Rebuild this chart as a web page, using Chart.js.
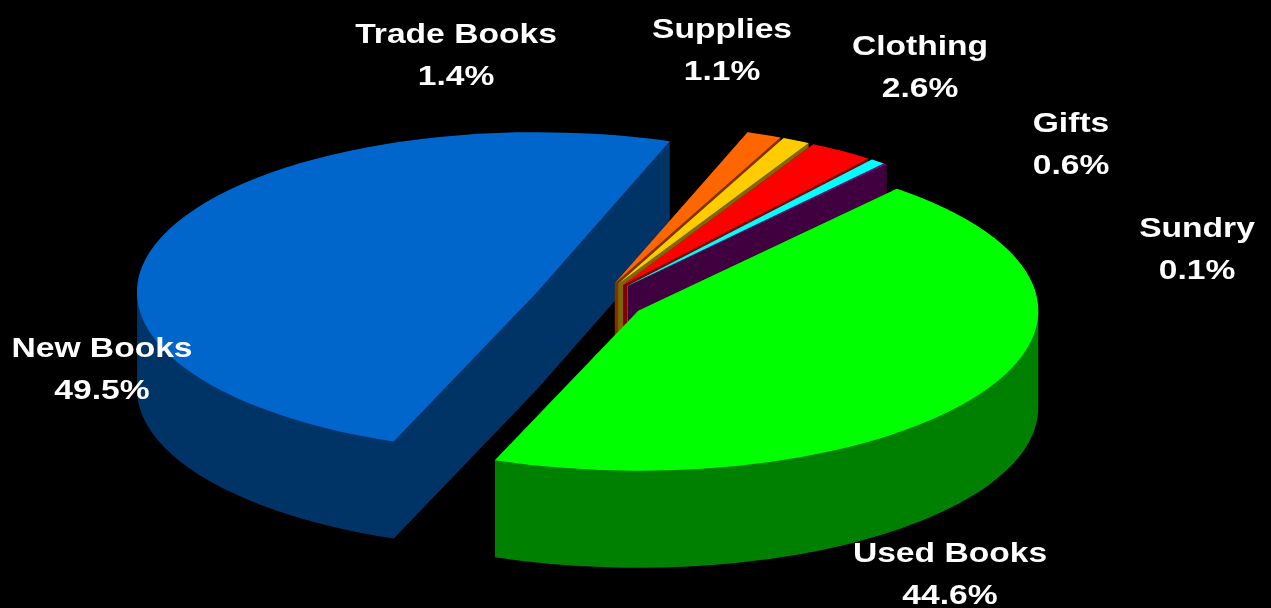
<!DOCTYPE html>
<html>
<head>
<meta charset="utf-8">
<script src="https://cdn.jsdelivr.net/npm/chart.js@4.4.0/dist/chart.umd.min.js"></script>
<style>
html, body { margin: 0; padding: 0; background: #000; }
#wrap { width: 1271px; height: 608px; }
</style>
</head>
<body>
<div id="wrap"><canvas id="sales_mix"></canvas></div>
<script>
var categories = ['New Books', 'Trade Books', 'Supplies', 'Clothing', 'Gifts', 'Sundry', 'Used Books'];
var shares = [49.5, 1.4, 1.1, 2.6, 0.6, 0.1, 44.6];

var topColors = ['#0066CC', '#FF6600', '#FFCC00', '#FF0000', '#00FFFF', '#800080', '#00FF00'];
var sideColors = ['#003366', '#803300', '#806600', '#800000', '#008080', '#400040', '#008000'];
var explode = [32, 24, 24, 24, 24, 24, 24];
var labelSpots = [[102, 357], [456, 43], [722, 38], [920, 55], [1071, 132], [1197, 237], [950, 562]];

// screen geometry of the tilted disc
var tilt = { cx: 597, cy: 301, rx: 400, ry: 160, depth: 97 };

var pie3d = {
    id: 'pie3d',
    beforeDatasetsDraw: function(chart) {
        var ctx = chart.ctx;
        var arcs = chart.getDatasetMeta(0).data;
        var r = arcs[0].outerRadius;
        var sx = tilt.rx / r, sy = tilt.ry / r;
        var c0x = arcs[0].x, c0y = arcs[0].y;
        var drop = tilt.depth / sy;

        function place(arc, i) {
            var mid = (arc.startAngle + arc.endAngle) / 2;
            ctx.save();
            ctx.translate(tilt.cx, tilt.cy);
            ctx.scale(sx, sy);
            ctx.translate(-c0x + Math.cos(mid) * explode[i], -c0y + Math.sin(mid) * explode[i]);
        }

        // back to front: each slice gets its cut faces, rim, then top
        arcs.forEach(function(arc, i) {
            place(arc, i);
            ctx.fillStyle = sideColors[i];

            [arc.startAngle, arc.endAngle].forEach(function(a) {
                var ex = arc.x + Math.cos(a) * arc.outerRadius;
                var ey = arc.y + Math.sin(a) * arc.outerRadius;
                ctx.beginPath();
                ctx.moveTo(arc.x, arc.y);
                ctx.lineTo(ex, ey);
                ctx.lineTo(ex, ey + drop);
                ctx.lineTo(arc.x, arc.y + drop);
                ctx.closePath();
                ctx.fill();
            });

            // rim: one path made of the wedge swept down, filled once
            ctx.beginPath();
            for (var d = tilt.depth; d > 0; d -= 0.5) {
                var dy = d / sy;
                ctx.moveTo(arc.x, arc.y + dy);
                ctx.arc(arc.x, arc.y + dy, arc.outerRadius, arc.startAngle, arc.endAngle);
                ctx.closePath();
            }
            ctx.fill();

            arc.draw(ctx);
            ctx.restore();
        });
        return false;
    },
    afterDraw: function(chart) {
        var ctx = chart.ctx;
        ctx.save();
        ctx.fillStyle = '#fff';
        ctx.font = 'bold 28px "Liberation Sans", Arial, sans-serif';
        ctx.textAlign = 'center';
        labelSpots.forEach(function(p, i) {
            [categories[i], shares[i].toFixed(1) + '%'].forEach(function(line, k) {
                ctx.save();
                ctx.translate(p[0], p[1] + k * 42);
                ctx.scale(1.2, 1);
                ctx.fillText(line, 0, 0);
                ctx.restore();
            });
        });
        ctx.restore();
    }
};

var ctx = document.getElementById('sales_mix').getContext('2d');
var myChart = new Chart(ctx, {
    type: 'pie',
    data: {
        labels: categories,
        datasets: [{
            data: shares,
            backgroundColor: topColors,
            borderWidth: 0
        }]
    },
    options: {
        responsive: true,
        maintainAspectRatio: false,
        animation: false,
        events: [],
        rotation: 201,
        radius: 200,
        layout: { padding: 0 },
        plugins: {
            legend: { display: false },
            tooltip: { enabled: false }
        }
    },
    plugins: [pie3d]
});
</script>
</body>
</html>
